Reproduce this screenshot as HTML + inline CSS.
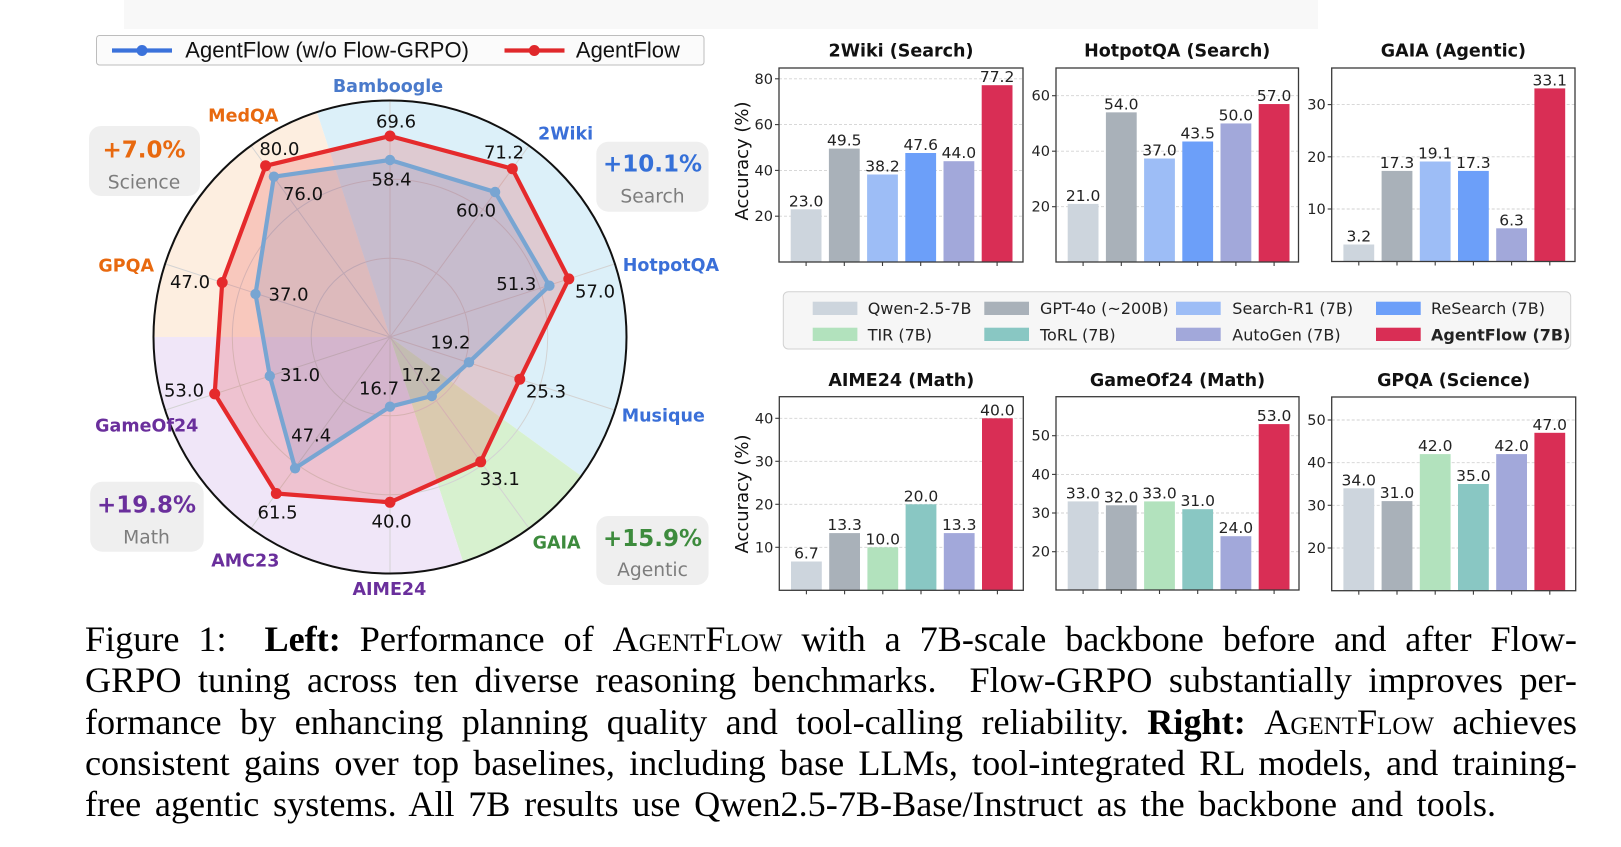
<!DOCTYPE html>
<html>
<head>
<meta charset="utf-8">
<style>
  html,body{margin:0;padding:0;background:#fff;}
  body{width:1621px;height:847px;position:relative;overflow:hidden;}
  svg{position:absolute;left:0;top:0;}
  .num{font-family:"DejaVu Sans",sans-serif;font-size:18px;fill:#111;text-anchor:middle;}
  .ax{font-family:"DejaVu Sans",sans-serif;font-weight:bold;font-size:17.5px;text-anchor:middle;}
  .bv{font-family:"DejaVu Sans",sans-serif;font-size:15.5px;fill:#222;text-anchor:middle;}
  .tk{font-family:"DejaVu Sans",sans-serif;font-size:14.5px;fill:#222;text-anchor:end;}
  .ttl{font-family:"DejaVu Sans",sans-serif;font-weight:bold;font-size:17.5px;fill:#111;text-anchor:middle;}
  .lg{font-family:"DejaVu Sans",sans-serif;font-size:16px;fill:#222;}
  .pct{font-family:"DejaVu Sans",sans-serif;font-weight:bold;font-size:23px;text-anchor:middle;}
  .cat{font-family:"DejaVu Sans",sans-serif;font-size:18.7px;fill:#7d7d7d;text-anchor:middle;}
  .rl{font-family:"Liberation Sans",sans-serif;font-size:22px;fill:#111;}
  .cap{position:absolute;left:85px;font-family:"Liberation Serif",serif;font-size:36.2px;color:#000;line-height:41px;height:41px;text-align:justify;text-align-last:justify;white-space:normal;}
  .sc{font-variant:small-caps;}
</style>
</head>
<body>
<svg width="1621" height="847" viewBox="0 0 1621 847" xmlns="http://www.w3.org/2000/svg">
  <rect x="124" y="0" width="1194" height="29" fill="#f8f8f8"/>

  <path d="M390,337 L316.9,112.1 A236.5,236.5 0 0 1 581.3,476 Z" fill="#dcf0f9"/>
  <path d="M390,337 L581.3,476 A236.5,236.5 0 0 1 463.1,561.9 Z" fill="#d7f1cf"/>
  <path d="M390,337 L463.1,561.9 A236.5,236.5 0 0 1 153.5,337 Z" fill="#f0e6f8"/>
  <path d="M390,337 L153.5,337 A236.5,236.5 0 0 1 316.9,112.1 Z" fill="#fdeee0"/>
  <g stroke="#d3d3d3" stroke-width="1" fill="none">
    <circle cx="390" cy="337" r="78.8"/>
    <circle cx="390" cy="337" r="157.7"/>
    <line x1="390" y1="337" x2="390" y2="100.5"/>
    <line x1="390" y1="337" x2="529.0" y2="145.7"/>
    <line x1="390" y1="337" x2="614.9" y2="263.9"/>
    <line x1="390" y1="337" x2="614.9" y2="410.1"/>
    <line x1="390" y1="337" x2="529.0" y2="528.3"/>
    <line x1="390" y1="337" x2="390" y2="573.5"/>
    <line x1="390" y1="337" x2="251.0" y2="528.3"/>
    <line x1="390" y1="337" x2="165.1" y2="410.1"/>
    <line x1="390" y1="337" x2="165.1" y2="263.9"/>
    <line x1="390" y1="337" x2="251.0" y2="145.7"/>
  </g>
  <circle cx="390" cy="337" r="236.5" fill="none" stroke="#111" stroke-width="2"/>
  <polygon points="390,136 512.3,168.7 568.8,278.9 519.8,379.2 480.7,461.8 390,502.3 276.3,493.5 214.7,393.9 222.2,282.5 265.6,165.8" fill="rgb(230,50,50)" fill-opacity="0.2"/>
  <polygon points="390,160 495.1,192 549.4,285.7 469,362.3 431.8,396 390,406.7 295.1,468.3 269.8,376 255.5,294 273.9,176.7" fill="rgb(70,110,190)" fill-opacity="0.15"/>
  <polygon points="390,136 512.3,168.7 568.8,278.9 519.8,379.2 480.7,461.8 390,502.3 276.3,493.5 214.7,393.9 222.2,282.5 265.6,165.8" fill="none" stroke="#e52a2c" stroke-width="4.2" stroke-linejoin="round"/>
  <g fill="#e52a2c">
    <circle cx="390" cy="136" r="5.5"/><circle cx="512.3" cy="168.7" r="5.5"/><circle cx="568.8" cy="278.9" r="5.5"/>
    <circle cx="519.8" cy="379.2" r="5.5"/><circle cx="480.7" cy="461.8" r="5.5"/><circle cx="390" cy="502.3" r="5.5"/>
    <circle cx="276.3" cy="493.5" r="5.5"/><circle cx="214.7" cy="393.9" r="5.5"/><circle cx="222.2" cy="282.5" r="5.5"/>
    <circle cx="265.6" cy="165.8" r="5.5"/>
  </g>
  <polygon points="390,160 495.1,192 549.4,285.7 469,362.3 431.8,396 390,406.7 295.1,468.3 269.8,376 255.5,294 273.9,176.7" fill="none" stroke="#78a5d2" stroke-width="4.2" stroke-linejoin="round"/>
  <g fill="#78a5d2">
    <circle cx="390" cy="160" r="5.2"/><circle cx="495.1" cy="192" r="5.2"/><circle cx="549.4" cy="285.7" r="5.2"/>
    <circle cx="469" cy="362.3" r="5.2"/><circle cx="431.8" cy="396" r="5.2"/><circle cx="390" cy="406.7" r="5.2"/>
    <circle cx="295.1" cy="468.3" r="5.2"/><circle cx="269.8" cy="376" r="5.2"/><circle cx="255.5" cy="294" r="5.2"/>
    <circle cx="273.9" cy="176.7" r="5.2"/>
  </g>
  <text class="num" x="396" y="127.3">69.6</text>
  <text class="num" x="391.6" y="185.7">58.4</text>
  <text class="num" x="279.4" y="155">80.0</text>
  <text class="num" x="303" y="200">76.0</text>
  <text class="num" x="504" y="158.3">71.2</text>
  <text class="num" x="476" y="216.7">60.0</text>
  <text class="num" x="516.3" y="290">51.3</text>
  <text class="num" x="595" y="297.7">57.0</text>
  <text class="num" x="190" y="288">47.0</text>
  <text class="num" x="288.6" y="300.7">37.0</text>
  <text class="num" x="450.4" y="348.3">19.2</text>
  <text class="num" x="300" y="381">31.0</text>
  <text class="num" x="184" y="396.7">53.0</text>
  <text class="num" x="421.4" y="381">17.2</text>
  <text class="num" x="379" y="394.3">16.7</text>
  <text class="num" x="546" y="397.7">25.3</text>
  <text class="num" x="311.2" y="441.7">47.4</text>
  <text class="num" x="499.8" y="485">33.1</text>
  <text class="num" x="277.6" y="518.3">61.5</text>
  <text class="num" x="391.6" y="527.3">40.0</text>
  <text class="ax" x="388" y="92" fill="#4a7acb">Bamboogle</text>
  <text class="ax" x="243.3" y="121.7" fill="#e8690f">MedQA</text>
  <text class="ax" x="565.6" y="139.3" fill="#3a6fd8">2Wiki</text>
  <text class="ax" x="622.7" y="271" fill="#3a6fd8" style="text-anchor:start">HotpotQA</text>
  <text class="ax" x="154" y="271.5" fill="#e8690f" style="text-anchor:end">GPQA</text>
  <text class="ax" x="621.7" y="421.5" fill="#3a6fd8" style="text-anchor:start">Musique</text>
  <text class="ax" x="198.3" y="431.7" fill="#6a2f9c" style="text-anchor:end">GameOf24</text>
  <text class="ax" x="245.3" y="566.7" fill="#6a2f9c">AMC23</text>
  <text class="ax" x="389.4" y="595" fill="#6a2f9c">AIME24</text>
  <text class="ax" x="556.6" y="548.3" fill="#3d8b3d">GAIA</text>
  <rect x="89" y="126" width="111" height="70" rx="12" fill="#efefef"/>
  <text class="pct" x="144" y="157.3" fill="#e8690f">+7.0%</text>
  <text class="cat" x="144" y="188.3">Science</text>
  <rect x="596.3" y="141.7" width="112.3" height="70" rx="12" fill="#efefef"/>
  <text class="pct" x="652.5" y="171.7" fill="#3570d8">+10.1%</text>
  <text class="cat" x="652.5" y="202.7">Search</text>
  <rect x="90.2" y="481.7" width="113.5" height="70" rx="12" fill="#efefef"/>
  <text class="pct" x="146.5" y="512.3" fill="#6a2f9c">+19.8%</text>
  <text class="cat" x="146.5" y="543.3">Math</text>
  <rect x="596.3" y="516" width="112.3" height="69" rx="12" fill="#efefef"/>
  <text class="pct" x="652.5" y="546" fill="#3d8b3d">+15.9%</text>
  <text class="cat" x="652.5" y="576">Agentic</text>
  <rect x="96.5" y="35.5" width="607.5" height="29.5" rx="3" fill="#fbfbfb" stroke="#bdbdbd" stroke-width="1"/>
  <line x1="112" y1="50.5" x2="172" y2="50.5" stroke="#3b72db" stroke-width="4.2"/>
  <circle cx="142" cy="50.5" r="5.5" fill="#3b72db"/>
  <text class="rl" x="185.3" y="57.5">AgentFlow (w/o Flow-GRPO)</text>
  <line x1="504.5" y1="50.5" x2="564.5" y2="50.5" stroke="#e0282b" stroke-width="4.2"/>
  <circle cx="534.3" cy="50.5" r="5.5" fill="#e0282b"/>
  <text class="rl" x="575.9" y="57.5">AgentFlow</text>

  <g stroke="#d2d2d2" stroke-width="0.9" stroke-dasharray="3,2">
    <line x1="779" x2="1023" y1="216.2" y2="216.2"/><line x1="779" x2="1023" y1="170.4" y2="170.4"/>
    <line x1="779" x2="1023" y1="124.6" y2="124.6"/><line x1="779" x2="1023" y1="78.8" y2="78.8"/>
    <line x1="1056" x2="1298.5" y1="206.7" y2="206.7"/><line x1="1056" x2="1298.5" y1="151.2" y2="151.2"/>
    <line x1="1056" x2="1298.5" y1="95.7" y2="95.7"/>
    <line x1="1331.7" x2="1575" y1="209" y2="209"/><line x1="1331.7" x2="1575" y1="156.8" y2="156.8"/>
    <line x1="1331.7" x2="1575" y1="104.6" y2="104.6"/>
    <line x1="779.3" x2="1023.3" y1="547.3" y2="547.3"/><line x1="779.3" x2="1023.3" y1="504.3" y2="504.3"/>
    <line x1="779.3" x2="1023.3" y1="461.3" y2="461.3"/><line x1="779.3" x2="1023.3" y1="418.3" y2="418.3"/>
    <line x1="1056" x2="1299" y1="551.7" y2="551.7"/><line x1="1056" x2="1299" y1="513" y2="513"/>
    <line x1="1056" x2="1299" y1="474.4" y2="474.4"/><line x1="1056" x2="1299" y1="435.7" y2="435.7"/>
    <line x1="1331.7" x2="1575.7" y1="548" y2="548"/><line x1="1331.7" x2="1575.7" y1="505.3" y2="505.3"/>
    <line x1="1331.7" x2="1575.7" y1="462.7" y2="462.7"/><line x1="1331.7" x2="1575.7" y1="420" y2="420"/>
  </g>

  <rect x="790.7" y="209.3" width="30.8" height="52.7" fill="#cdd5dd"/>
  <rect x="828.9" y="148.6" width="30.8" height="113.4" fill="#a9b1b9"/>
  <rect x="867.1" y="174.5" width="30.8" height="87.5" fill="#9dbdf6"/>
  <rect x="905.3" y="153.0" width="30.8" height="109" fill="#6c9ff9"/>
  <rect x="943.5" y="161.2" width="30.8" height="100.8" fill="#a2a8da"/>
  <rect x="981.7" y="85.2" width="30.8" height="176.8" fill="#d92e55"/>
  <text class="bv" x="806.1" y="206.3">23.0</text><text class="bv" x="844.3" y="145.6">49.5</text>
  <text class="bv" x="882.5" y="171.5">38.2</text><text class="bv" x="920.7" y="150">47.6</text>
  <text class="bv" x="958.9" y="158.2">44.0</text><text class="bv" x="997.1" y="82.2">77.2</text>

  <rect x="1067.7" y="203.9" width="30.8" height="58.1" fill="#cdd5dd"/>
  <rect x="1105.9" y="112.35" width="30.8" height="149.65" fill="#a9b1b9"/>
  <rect x="1144.1" y="158.5" width="30.8" height="103.5" fill="#9dbdf6"/>
  <rect x="1182.3" y="141.5" width="30.8" height="120.5" fill="#6c9ff9"/>
  <rect x="1220.5" y="123.45" width="30.8" height="138.55" fill="#a2a8da"/>
  <rect x="1258.7" y="104.05" width="30.8" height="157.95" fill="#d92e55"/>
  <text class="bv" x="1083.1" y="200.9">21.0</text><text class="bv" x="1121.3" y="109.3">54.0</text>
  <text class="bv" x="1159.5" y="155.5">37.0</text><text class="bv" x="1197.7" y="138.5">43.5</text>
  <text class="bv" x="1235.9" y="120.4">50.0</text><text class="bv" x="1274.1" y="101">57.0</text>

  <rect x="1343.4" y="244.5" width="30.8" height="17" fill="#cdd5dd"/>
  <rect x="1381.6" y="170.9" width="30.8" height="90.6" fill="#a9b1b9"/>
  <rect x="1419.8" y="161.5" width="30.8" height="100" fill="#9dbdf6"/>
  <rect x="1458" y="170.9" width="30.8" height="90.6" fill="#6c9ff9"/>
  <rect x="1496.2" y="228.3" width="30.8" height="33.2" fill="#a2a8da"/>
  <rect x="1534.4" y="88.4" width="30.8" height="173.1" fill="#d92e55"/>
  <text class="bv" x="1358.8" y="241.5">3.2</text><text class="bv" x="1397" y="167.9">17.3</text>
  <text class="bv" x="1435.2" y="158.5">19.1</text><text class="bv" x="1473.4" y="167.9">17.3</text>
  <text class="bv" x="1511.6" y="225.3">6.3</text><text class="bv" x="1549.8" y="85.4">33.1</text>

  <rect x="791" y="561.5" width="30.8" height="28.8" fill="#cdd5dd"/>
  <rect x="829.2" y="533.1" width="30.8" height="57.2" fill="#a9b1b9"/>
  <rect x="867.4" y="547.3" width="30.8" height="43" fill="#b2e2bd"/>
  <rect x="905.6" y="504.3" width="30.8" height="86" fill="#89c7c3"/>
  <rect x="943.8" y="533.1" width="30.8" height="57.2" fill="#a2a8da"/>
  <rect x="982" y="418.3" width="30.8" height="172" fill="#d92e55"/>
  <text class="bv" x="806.4" y="558.5">6.7</text><text class="bv" x="844.6" y="530.1">13.3</text>
  <text class="bv" x="882.8" y="544.3">10.0</text><text class="bv" x="921" y="501.3">20.0</text>
  <text class="bv" x="959.2" y="530.1">13.3</text><text class="bv" x="997.4" y="415.3">40.0</text>

  <rect x="1067.7" y="501.4" width="30.8" height="88.6" fill="#cdd5dd"/>
  <rect x="1105.9" y="505.3" width="30.8" height="84.7" fill="#a9b1b9"/>
  <rect x="1144.1" y="501.4" width="30.8" height="88.6" fill="#b2e2bd"/>
  <rect x="1182.3" y="509.2" width="30.8" height="80.8" fill="#89c7c3"/>
  <rect x="1220.5" y="536.2" width="30.8" height="53.8" fill="#a2a8da"/>
  <rect x="1258.7" y="424.1" width="30.8" height="165.9" fill="#d92e55"/>
  <text class="bv" x="1083.1" y="498.4">33.0</text><text class="bv" x="1121.3" y="502.3">32.0</text>
  <text class="bv" x="1159.5" y="498.4">33.0</text><text class="bv" x="1197.7" y="506.2">31.0</text>
  <text class="bv" x="1235.9" y="533.2">24.0</text><text class="bv" x="1274.1" y="421.1">53.0</text>

  <rect x="1343.4" y="488.3" width="30.8" height="102.4" fill="#cdd5dd"/>
  <rect x="1381.6" y="501.1" width="30.8" height="89.6" fill="#a9b1b9"/>
  <rect x="1419.8" y="454.1" width="30.8" height="136.6" fill="#b2e2bd"/>
  <rect x="1458" y="484.0" width="30.8" height="106.7" fill="#89c7c3"/>
  <rect x="1496.2" y="454.1" width="30.8" height="136.6" fill="#a2a8da"/>
  <rect x="1534.4" y="432.8" width="30.8" height="157.9" fill="#d92e55"/>
  <text class="bv" x="1358.8" y="485.3">34.0</text><text class="bv" x="1397" y="498.1">31.0</text>
  <text class="bv" x="1435.2" y="451.1">42.0</text><text class="bv" x="1473.4" y="481">35.0</text>
  <text class="bv" x="1511.6" y="451.1">42.0</text><text class="bv" x="1549.8" y="429.8">47.0</text>

  <g fill="none" stroke="#3a3a3a" stroke-width="1.3">
    <rect x="779" y="68" width="244" height="194"/>
    <rect x="1056" y="68" width="242.5" height="194"/>
    <rect x="1331.7" y="68" width="243.3" height="193.5"/>
    <rect x="779.3" y="396.7" width="244" height="193.6"/>
    <rect x="1056" y="396.7" width="243" height="193.3"/>
    <rect x="1331.7" y="397" width="244" height="193.7"/>
  </g>
  <g stroke="#3a3a3a" stroke-width="1.1">
    <line x1="775" x2="779" y1="216.2" y2="216.2"/><line x1="775" x2="779" y1="170.4" y2="170.4"/>
    <line x1="775" x2="779" y1="124.6" y2="124.6"/><line x1="775" x2="779" y1="78.8" y2="78.8"/>
    <line x1="1052" x2="1056" y1="206.7" y2="206.7"/><line x1="1052" x2="1056" y1="151.2" y2="151.2"/>
    <line x1="1052" x2="1056" y1="95.7" y2="95.7"/>
    <line x1="1327.7" x2="1331.7" y1="209" y2="209"/><line x1="1327.7" x2="1331.7" y1="156.8" y2="156.8"/>
    <line x1="1327.7" x2="1331.7" y1="104.6" y2="104.6"/>
    <line x1="775.3" x2="779.3" y1="547.3" y2="547.3"/><line x1="775.3" x2="779.3" y1="504.3" y2="504.3"/>
    <line x1="775.3" x2="779.3" y1="461.3" y2="461.3"/><line x1="775.3" x2="779.3" y1="418.3" y2="418.3"/>
    <line x1="1052" x2="1056" y1="551.7" y2="551.7"/><line x1="1052" x2="1056" y1="513" y2="513"/>
    <line x1="1052" x2="1056" y1="474.4" y2="474.4"/><line x1="1052" x2="1056" y1="435.7" y2="435.7"/>
    <line x1="1327.7" x2="1331.7" y1="548" y2="548"/><line x1="1327.7" x2="1331.7" y1="505.3" y2="505.3"/>
    <line x1="1327.7" x2="1331.7" y1="462.7" y2="462.7"/><line x1="1327.7" x2="1331.7" y1="420" y2="420"/>
    <line x1="806.1" x2="806.1" y1="262" y2="266"/><line x1="844.3" x2="844.3" y1="262" y2="266"/>
    <line x1="882.5" x2="882.5" y1="262" y2="266"/><line x1="920.7" x2="920.7" y1="262" y2="266"/>
    <line x1="958.9" x2="958.9" y1="262" y2="266"/><line x1="997.1" x2="997.1" y1="262" y2="266"/>
    <line x1="1083.1" x2="1083.1" y1="262" y2="266"/><line x1="1121.3" x2="1121.3" y1="262" y2="266"/>
    <line x1="1159.5" x2="1159.5" y1="262" y2="266"/><line x1="1197.7" x2="1197.7" y1="262" y2="266"/>
    <line x1="1235.9" x2="1235.9" y1="262" y2="266"/><line x1="1274.1" x2="1274.1" y1="262" y2="266"/>
    <line x1="1358.8" x2="1358.8" y1="261.5" y2="265.5"/><line x1="1397" x2="1397" y1="261.5" y2="265.5"/>
    <line x1="1435.2" x2="1435.2" y1="261.5" y2="265.5"/><line x1="1473.4" x2="1473.4" y1="261.5" y2="265.5"/>
    <line x1="1511.6" x2="1511.6" y1="261.5" y2="265.5"/><line x1="1549.8" x2="1549.8" y1="261.5" y2="265.5"/>
    <line x1="806.4" x2="806.4" y1="590.3" y2="594.3"/><line x1="844.6" x2="844.6" y1="590.3" y2="594.3"/>
    <line x1="882.8" x2="882.8" y1="590.3" y2="594.3"/><line x1="921" x2="921" y1="590.3" y2="594.3"/>
    <line x1="959.2" x2="959.2" y1="590.3" y2="594.3"/><line x1="997.4" x2="997.4" y1="590.3" y2="594.3"/>
    <line x1="1083.1" x2="1083.1" y1="590" y2="594"/><line x1="1121.3" x2="1121.3" y1="590" y2="594"/>
    <line x1="1159.5" x2="1159.5" y1="590" y2="594"/><line x1="1197.7" x2="1197.7" y1="590" y2="594"/>
    <line x1="1235.9" x2="1235.9" y1="590" y2="594"/><line x1="1274.1" x2="1274.1" y1="590" y2="594"/>
    <line x1="1358.8" x2="1358.8" y1="590.7" y2="594.7"/><line x1="1397" x2="1397" y1="590.7" y2="594.7"/>
    <line x1="1435.2" x2="1435.2" y1="590.7" y2="594.7"/><line x1="1473.4" x2="1473.4" y1="590.7" y2="594.7"/>
    <line x1="1511.6" x2="1511.6" y1="590.7" y2="594.7"/><line x1="1549.8" x2="1549.8" y1="590.7" y2="594.7"/>
  </g>
  <text class="tk" x="773" y="221.2">20</text><text class="tk" x="773" y="175.4">40</text>
  <text class="tk" x="773" y="129.6">60</text><text class="tk" x="773" y="83.8">80</text>
  <text class="tk" x="1050" y="211.7">20</text><text class="tk" x="1050" y="156.2">40</text>
  <text class="tk" x="1050" y="100.7">60</text>
  <text class="tk" x="1325.7" y="214">10</text><text class="tk" x="1325.7" y="161.8">20</text>
  <text class="tk" x="1325.7" y="109.6">30</text>
  <text class="tk" x="773.3" y="552.3">10</text><text class="tk" x="773.3" y="509.3">20</text>
  <text class="tk" x="773.3" y="466.3">30</text><text class="tk" x="773.3" y="423.3">40</text>
  <text class="tk" x="1050" y="556.7">20</text><text class="tk" x="1050" y="518">30</text>
  <text class="tk" x="1050" y="479.4">40</text><text class="tk" x="1050" y="440.7">50</text>
  <text class="tk" x="1325.7" y="553">20</text><text class="tk" x="1325.7" y="510.3">30</text>
  <text class="tk" x="1325.7" y="467.7">40</text><text class="tk" x="1325.7" y="425">50</text>
  <text transform="translate(748,161) rotate(-90)" style="font-family:'DejaVu Sans',sans-serif;font-size:18px;fill:#111;text-anchor:middle">Accuracy (%)</text>
  <text transform="translate(748,494) rotate(-90)" style="font-family:'DejaVu Sans',sans-serif;font-size:18px;fill:#111;text-anchor:middle">Accuracy (%)</text>
  <text class="ttl" x="901" y="56.7">2Wiki (Search)</text>
  <text class="ttl" x="1177.2" y="56.7">HotpotQA (Search)</text>
  <text class="ttl" x="1453.4" y="56.7">GAIA (Agentic)</text>
  <text class="ttl" x="901.3" y="386">AIME24 (Math)</text>
  <text class="ttl" x="1177.5" y="386">GameOf24 (Math)</text>
  <text class="ttl" x="1453.7" y="386">GPQA (Science)</text>

  <rect x="783.3" y="291.7" width="787.4" height="57.3" rx="5" fill="#f6f6f6" stroke="#d2d2d2" stroke-width="1"/>
  <rect x="812.7" y="301.7" width="44.7" height="13.3" fill="#cdd5dd"/>
  <text class="lg" x="867.7" y="314">Qwen-2.5-7B</text>
  <rect x="984.3" y="301.7" width="44.7" height="13.3" fill="#a9b1b9"/>
  <text class="lg" x="1040" y="314">GPT-4o (~200B)</text>
  <rect x="1176" y="301.7" width="44.7" height="13.3" fill="#9dbdf6"/>
  <text class="lg" x="1232.3" y="314">Search-R1 (7B)</text>
  <rect x="1376" y="301.7" width="44.7" height="13.3" fill="#6c9ff9"/>
  <text class="lg" x="1431" y="314">ReSearch (7B)</text>
  <rect x="812.7" y="327.7" width="44.7" height="13.3" fill="#b2e2bd"/>
  <text class="lg" x="867.7" y="340.5">TIR (7B)</text>
  <rect x="984.3" y="327.7" width="44.7" height="13.3" fill="#89c7c3"/>
  <text class="lg" x="1040" y="340.5">ToRL (7B)</text>
  <rect x="1176" y="327.7" width="44.7" height="13.3" fill="#a2a8da"/>
  <text class="lg" x="1232.3" y="340.5">AutoGen (7B)</text>
  <rect x="1376" y="327.7" width="44.7" height="13.3" fill="#d92e55"/>
  <text class="lg" x="1431" y="340.5" style="font-weight:bold">AgentFlow (7B)</text>
</svg>

<div class="cap" style="top:619.3px;width:1492px;">Figure 1:&nbsp; <b>Left:</b> Performance of <span class="sc">AgentFlow</span> with a 7B-scale backbone before and after Flow-</div>
<div class="cap" style="top:660.3px;width:1492px;">GRPO tuning across ten diverse reasoning benchmarks.&nbsp; Flow-GRPO substantially improves per-</div>
<div class="cap" style="top:701.8px;width:1492px;">formance by enhancing planning quality and tool-calling reliability. <b>Right:</b> <span class="sc">AgentFlow</span> achieves</div>
<div class="cap" style="top:743.3px;width:1492px;">consistent gains over top baselines, including base LLMs, tool-integrated RL models, and training-</div>
<div class="cap" style="top:784.3px;width:1411px;">free agentic systems. All 7B results use Qwen2.5-7B-Base/Instruct as the backbone and tools.</div>
</body>
</html>
